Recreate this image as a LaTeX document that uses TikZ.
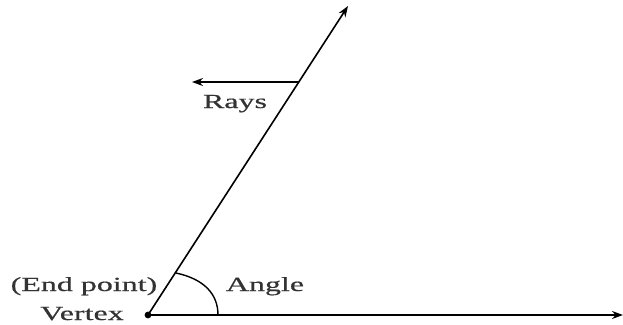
\documentclass[tikz,border=0pt]{standalone}
\usepackage{fontspec}
\setmainfont[FakeStretch=1.6,FakeBold=0.6]{Liberation Serif}
\usetikzlibrary{arrows.meta}
\begin{document}
\begin{tikzpicture}[x=1pt,y=-1pt,
  ray/.style={line width=1.6pt,-{Stealth[length=11pt,width=8pt]}},
  lbl/.style={anchor=base,inner sep=0pt,font=\fontsize{20}{22}\selectfont,text=black!80}]
\useasboundingbox (0,0) rectangle (623,324);
\coordinate (V) at (148,315);
\coordinate (T) at (348,6);
\coordinate (R) at (623,315);
\coordinate (M) at (299,82);
\coordinate (L) at (192,82);
\coordinate (A1) at (176,273);
\coordinate (A2) at (218,315);
\draw[ray] (V) -- (T);
\draw[ray] (V) -- (R);
\draw[ray] (M) -- (L);
\draw[line width=1.4pt] (A1) .. controls (204,279) and (218,294) .. (A2);
\fill (V) circle (3.4);
\node[lbl] (rays) at (235,108) {Rays};
\node[lbl] (angle) at (265,291) {Angle};
\node[lbl] (ep) at (84,291) {(End point)};
\node[lbl] (vx) at (82,320) {Vertex};
\end{tikzpicture}
\end{document}
